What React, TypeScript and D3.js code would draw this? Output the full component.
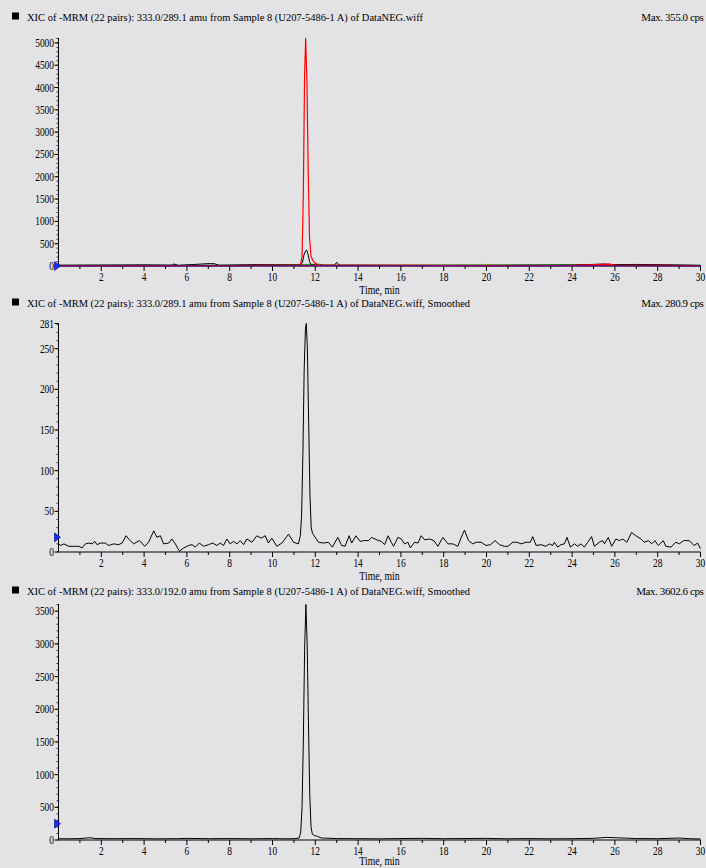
import React from "react";
import * as d3 from "d3";

const W = 706;
const H = 868;
const FONT = "'Liberation Serif', 'Times New Roman', serif";
const BG = "#e3e3e6";

// titles and header labels
const titles = [
  "XIC of -MRM (22 pairs): 333.0/289.1 amu from Sample 8 (U207-5486-1 A) of DataNEG.wiff",
  "XIC of -MRM (22 pairs): 333.0/289.1 amu from Sample 8 (U207-5486-1 A) of DataNEG.wiff, Smoothed",
  "XIC of -MRM (22 pairs): 333.0/192.0 amu from Sample 8 (U207-5486-1 A) of DataNEG.wiff, Smoothed",
];
const maxLabels = ["Max. 355.0 cps", "Max. 280.9 cps", "Max. 3602.6 cps"];
const xTickLabels = [2, 4, 6, 8, 10, 12, 14, 16, 18, 20, 22, 24, 26, 28, 30];
const xMinorTicks = [1, 3, 5, 7, 9, 11, 13, 15, 17, 19, 21, 23, 25, 27, 29];
const yTicks1 = [0, 500, 1000, 1500, 2000, 2500, 3000, 3500, 4000, 4500, 5000];
const yTicks2 = [0, 50, 100, 150, 200, 250, 281];
const yTicks3 = [0, 500, 1000, 1500, 2000, 2500, 3000, 3500];
const markerValues = [0, 18, 250];

// panel 1: raw XICs (several transitions), [time, cps]
const rawBlack = [
  [0, 15], [2, 20], [4, 25], [5.3, 20], [5.4, 45], [5.6, 15], [7.1, 55], [7.3, 50], [7.5, 15],
  [9.3, 30], [11.3, 20], [11.4, 80], [11.47, 250], [11.55, 340], [11.6, 355], [11.66, 260],
  [11.73, 100], [11.8, 30], [12.0, 20], [12.9, 20], [13.0, 85], [13.1, 20], [16, 15], [20, 15],
  [24, 20], [25.5, 45], [26, 30], [27, 35], [30, 15],
];
const rawRed = [
  [0, 10], [4, 10], [8, 10], [11.3, 20], [11.38, 200], [11.44, 1600], [11.5, 4300], [11.55, 5100],
  [11.61, 4100], [11.67, 2100], [11.73, 650], [11.8, 220], [11.9, 110], [12.0, 60], [12.15, 20],
  [16, 15], [20, 10], [24, 15], [25.8, 40], [26, 20], [30, 10],
];
const rawMagenta = [
  [0, 8], [3, 5], [6, 10], [9, 6], [12, 8], [15, 6], [18, 10], [21, 5], [24, 8], [27, 6], [30, 5],
];
const rawGreen = [
  [0, 20], [5, 15], [10, 25], [12.2, 40], [12.4, 15], [18, 20], [26, 30], [30, 15],
];
const rawOrange = [[0, 10], [19.8, 15], [20, 40], [20.2, 15], [30, 10]];
const rawBlue = [[0, 5], [10, 8], [20, 5], [30, 8]];

// panel 2: smoothed 333.0/289.1
const smooth289 = [
  [0, 10], [0.1, 8], [0.25, 10], [0.48, 7], [0.72, 7], [0.95, 7], [1.1, 5], [1.26, 10], [1.42, 11],
  [1.57, 10], [1.7, 13], [1.8, 9], [1.96, 11], [2.19, 11], [2.35, 8], [2.58, 10], [2.81, 9],
  [2.97, 11], [3.16, 20], [3.31, 15], [3.51, 10], [3.78, 14], [4.03, 7], [4.21, 12], [4.45, 26],
  [4.6, 18], [4.76, 20], [4.91, 10], [5.15, 11], [5.3, 16], [5.46, 10], [5.65, 1], [5.85, 5],
  [6.08, 8], [6.24, 9], [6.39, 6], [6.58, 11], [6.78, 7], [7.01, 9], [7.2, 11], [7.4, 8], [7.56, 11],
  [7.71, 8], [7.87, 16], [8.02, 10], [8.18, 13], [8.34, 10], [8.49, 14], [8.65, 9], [8.8, 16],
  [9.04, 12], [9.27, 20], [9.47, 17], [9.66, 20], [9.81, 11], [9.97, 17], [10.2, 7], [10.44, 11],
  [10.75, 22], [10.98, 12], [11.21, 10], [11.3, 20], [11.36, 45], [11.42, 120], [11.48, 225],
  [11.54, 275], [11.58, 281], [11.63, 250], [11.69, 160], [11.75, 70], [11.81, 30], [11.87, 23],
  [12.15, 12], [12.38, 11], [12.61, 12], [12.8, 6], [13.05, 18], [13.23, 8], [13.39, 7], [13.58, 20],
  [13.7, 11], [13.9, 20], [14.09, 13], [14.25, 14], [14.48, 14], [14.63, 18], [14.87, 15],
  [15.09, 13], [15.24, 9], [15.4, 20], [15.55, 12], [15.66, 7], [15.86, 18], [16.02, 16], [16.17, 10],
  [16.33, 12], [16.44, 5], [16.64, 12], [16.8, 11], [16.95, 20], [17.11, 15], [17.34, 16],
  [17.54, 14], [17.73, 7], [17.96, 18], [18.2, 10], [18.43, 10], [18.66, 7], [18.82, 18], [18.97, 27],
  [19.16, 14], [19.36, 10], [19.52, 12], [19.75, 12], [19.98, 8], [20.19, 9], [20.4, 14], [20.61, 9],
  [20.84, 7], [21.0, 7], [21.23, 12], [21.43, 12], [21.62, 10], [21.85, 12], [22.05, 12], [22.16, 19],
  [22.32, 8], [22.55, 9], [22.78, 7], [22.94, 10], [23.09, 8], [23.17, 12], [23.33, 6], [23.48, 9],
  [23.64, 10], [23.76, 18], [23.92, 6], [24.11, 10], [24.26, 7], [24.42, 10], [24.57, 6], [24.73, 12],
  [24.91, 19], [25.04, 7], [25.27, 12], [25.43, 14], [25.51, 10], [25.69, 18], [25.85, 7], [26.05, 16],
  [26.21, 14], [26.36, 16], [26.56, 12], [26.78, 24], [26.98, 20], [27.22, 16], [27.37, 12],
  [27.57, 14], [27.72, 10], [27.87, 14], [28.03, 8], [28.26, 14], [28.38, 7], [28.62, 6], [28.85, 12],
  [29.01, 10], [29.21, 14], [29.47, 14], [29.7, 8], [29.86, 11], [30, 4],
];

// panel 3: smoothed 333.0/192.0
const smooth192 = [
  [0, 20], [0.5, 18], [1.0, 22], [1.5, 35], [1.7, 22], [2.5, 20], [3.5, 22], [4.5, 18], [5.5, 20],
  [6.0, 25], [7, 20], [8, 22], [9, 18], [10, 22], [10.5, 18], [11.0, 20], [11.25, 30], [11.32, 120],
  [11.38, 500], [11.44, 1500], [11.5, 2900], [11.56, 3602.6], [11.62, 3000], [11.68, 1800],
  [11.74, 700], [11.8, 200], [11.86, 90], [11.95, 70], [12.1, 55], [12.3, 30], [13, 22], [14, 20],
  [15, 18], [16, 22], [17, 25], [18, 20], [19, 22], [20, 25], [21, 18], [22, 22], [23, 18], [24, 20],
  [25, 25], [25.6, 40], [26, 35], [26.5, 28], [27, 22], [28, 20], [29, 30], [29.5, 20], [30, 15],
];

type Series = { data: number[][]; color: string; width: number };

const panels = [
  {
    title: titles[0], titleW: 396, max: maxLabels[0],
    top: 38, bottom: 266, yMax: 5110, ticks: yTicks1, minor: 100, timeDy: 27.5,
    series: [
      { data: rawGreen, color: "#009a00", width: 1 },
      { data: rawBlue, color: "#2020ff", width: 1 },
      { data: rawOrange, color: "#e0a000", width: 1 },
      { data: rawBlack, color: "#000000", width: 1 },
      { data: rawRed, color: "#ff0000", width: 1.2 },
      { data: rawMagenta, color: "#ff00ff", width: 1.2 },
    ] as Series[],
  },
  {
    title: titles[1], titleW: 443, max: maxLabels[1],
    top: 323.5, bottom: 552, yMax: 281, ticks: yTicks2, minor: 10, timeDy: 27.5,
    series: [{ data: smooth289, color: "#000000", width: 1 }] as Series[],
  },
  {
    title: titles[2], titleW: 443, max: maxLabels[2],
    top: 604, bottom: 840, yMax: 3610, ticks: yTicks3, minor: 100, timeDy: 25,
    series: [{ data: smooth192, color: "#000000", width: 1 }] as Series[],
  },
];

const x = d3.scaleLinear().domain([0, 30]).range([58.5, 700.5]);

function CText(props: { x: number; y: number; anchor?: string; size?: number; sx?: number; children: React.ReactNode }) {
  const { anchor = "start", size = 11.5, sx = 0.82 } = props;
  return (
    <text
      transform={`translate(${props.x},${props.y}) scale(${sx},1)`}
      textAnchor={anchor}
      fontSize={size}
      fontFamily={FONT}
      fill="#000"
    >
      {props.children}
    </text>
  );
}

function Panel({ p, idx }: { p: (typeof panels)[number]; idx: number }) {
  const y = d3.scaleLinear().domain([0, p.yMax]).range([p.bottom, p.top]);
  const line = d3
    .line<number[]>()
    .x(d => x(d[0]))
    .y(d => y(d[1]));
  const titleY = p.bottom - 245;
  const minors = d3.range(0, p.yMax, p.minor);
  const axisX = x(0);
  const mk = y(markerValues[idx]);
  return (
    <g>
      <rect x={12} y={titleY - 8.5} width={7} height={7} fill="#000" />
      <text x={27} y={titleY} fontSize={11} fontFamily={FONT} textLength={p.titleW} lengthAdjust="spacingAndGlyphs">
        {p.title}
      </text>
      <text x={703.5} y={titleY} fontSize={11} fontFamily={FONT} letterSpacing={-0.4} textAnchor="end">
        {p.max}
      </text>

      {/* traces */}
      <g fill="none" strokeLinejoin="round">
        {p.series.map((s, i) => (
          <path key={i} d={line(s.data) || ""} stroke={s.color} strokeWidth={s.width} />
        ))}
      </g>

      {/* y axis */}
      <line x1={axisX} x2={axisX} y1={p.top} y2={p.bottom} stroke="#000" />
      {minors.map(v => (
        <line key={"m" + v} x1={axisX - 2} x2={axisX} y1={y(v)} y2={y(v)} stroke="#000" strokeWidth={0.8} />
      ))}
      {p.ticks.map(v => (
        <g key={"t" + v}>
          <line x1={axisX - 4} x2={axisX} y1={y(v)} y2={y(v)} stroke="#000" />
          <CText x={axisX - 4.5} y={y(v) + 4} anchor="end">{v}</CText>
        </g>
      ))}

      {/* x axis */}
      <line x1={x(0)} x2={x(30)} y1={p.bottom} y2={p.bottom} stroke="#000" />
      {xMinorTicks.map(t => (
        <line key={"xm" + t} x1={x(t)} x2={x(t)} y1={p.bottom} y2={p.bottom + 3} stroke="#000" />
      ))}
      {xTickLabels.map(t => (
        <g key={"xt" + t}>
          <line x1={x(t)} x2={x(t)} y1={p.bottom} y2={p.bottom + 5} stroke="#000" />
          <CText x={x(t)} y={p.bottom + 15} anchor="middle">{t}</CText>
        </g>
      ))}
      <CText x={(x(0) + x(30)) / 2} y={p.bottom + p.timeDy} anchor="middle" sx={0.85}>Time, min</CText>

      {/* sample marker */}
      <path d={`M${axisX - 4},${mk - 4.5}L${axisX + 2},${mk}L${axisX - 4},${mk + 4.5}Z`} fill="#1030ff" stroke="#00008a" strokeWidth={0.6} />
    </g>
  );
}

export default function App() {
  return (
    <svg
      width={W}
      height={H}
      style={{ position: "absolute", left: 0, top: 0, background: BG }}
    >
      <rect width={W} height={H} fill={BG} />
      {panels.map((p, i) => (
        <Panel key={i} p={p} idx={i} />
      ))}
    </svg>
  );
}
